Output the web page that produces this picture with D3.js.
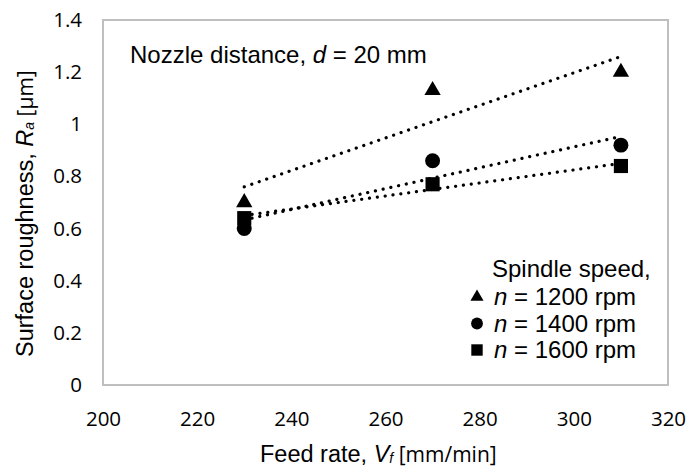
<!DOCTYPE html>
<html>
<head>
<meta charset="utf-8">
<script src="https://cdn.jsdelivr.net/npm/d3@7"></script>
<style>
  body { margin: 0; background: #fff; }
  svg { display: block; }
</style>
</head>
<body>
<svg id="chart" width="688" height="468"></svg>
<script>
// feed rates (mm/min)
const feedRates = [230, 270, 310];
// Ra per spindle speed
const ra1200 = [0.70, 1.13, 1.20];
const ra1400 = [0.60, 0.86, 0.92];
const ra1600 = [0.64, 0.77, 0.84];
const speedLabels = ["1200", "1400", "1600"];
const xTicks = [200, 220, 240, 260, 280, 300, 320];
const yTicks = [0, 0.2, 0.4, 0.6, 0.8, 1, 1.2, 1.4];

const series = [
    { name: speedLabels[0], values: ra1200, shape: d3.symbolTriangle },
    { name: speedLabels[1], values: ra1400, shape: d3.symbolCircle },
    { name: speedLabels[2], values: ra1600, shape: d3.symbolSquare }
];

const svg = d3.select( "#chart" );
const m = { left: 103, top: 20, right: 668, bottom: 385 };
const arial = "'Liberation Sans', Arial, sans-serif";

const x = d3.scaleLinear().domain( [ 200, 320 ] ).range( [ m.left, m.right ] );
const y = d3.scaleLinear().domain( [ 0, 1.4 ] ).range( [ m.bottom, m.top ] );

// plot frame
svg.append( "rect" )
    .attr( "x", m.left ).attr( "y", m.top )
    .attr( "width", m.right - m.left ).attr( "height", m.bottom - m.top )
    .attr( "fill", "none" ).attr( "stroke", "#bfbfbf" ).attr( "stroke-width", 2 );

// axes (labels only)
let xAxis = svg.append( "g" ).attr( "transform", "translate(0," + m.bottom + ")" )
    .call( d3.axisBottom( x ).tickValues( xTicks ).tickSize( 0 ).tickPadding( 26 ) );
let yAxis = svg.append( "g" ).attr( "transform", "translate(" + m.left + ",0)" )
    .call( d3.axisLeft( y ).tickValues( yTicks ).tickSize( 0 ).tickPadding( 21 ).tickFormat( d3.format( "" ) ) );
[ xAxis, yAxis ].forEach( function ( a ) {
    a.select( ".domain" ).remove();
    a.selectAll( "text" ).attr( "font-family", "'Open Sans', sans-serif" ).attr( "font-size", 20.5 ).attr( "fill", "#000" );
} );

// linear trend lines (least squares)
function fit( xs, ys ) {
    let mx = d3.mean( xs ), my = d3.mean( ys );
    let num = d3.sum( xs, function ( v, i ) { return ( v - mx ) * ( ys[ i ] - my ); } );
    let den = d3.sum( xs, function ( v ) { return ( v - mx ) * ( v - mx ); } );
    let b = num / den;
    return function ( v ) { return my + b * ( v - mx ); };
}

series.forEach( function ( s ) {
    let f = fit( feedRates, s.values );
    let x0 = d3.min( feedRates ), x1 = d3.max( feedRates );
    svg.append( "line" )
        .attr( "x1", x( x0 ) ).attr( "y1", y( f( x0 ) ) )
        .attr( "x2", x( x1 ) ).attr( "y2", y( f( x1 ) ) )
        .attr( "stroke", "#000" ).attr( "stroke-width", 3.2 )
        .attr( "stroke-linecap", "round" ).attr( "stroke-dasharray", "0.1 7.8" );
} );

// markers
series.forEach( function ( s ) {
    svg.append( "g" ).selectAll( "path" ).data( s.values ).enter().append( "path" )
        .attr( "transform", function ( d, i ) { return "translate(" + x( feedRates[ i ] ) + "," + y( d ) + ")"; } )
        .attr( "d", d3.symbol().type( s.shape ).size( s.shape === d3.symbolTriangle ? 115 : ( s.shape === d3.symbolCircle ? 175 : 200 ) ) )
        .attr( "fill", "#000" );
} );

// annotation
let note = svg.append( "text" ).attr( "x", 130 ).attr( "y", 63 )
    .attr( "font-family", arial ).attr( "font-size", 24 ).attr( "fill", "#000" );
note.append( "tspan" ).text( "Nozzle distance, " );
note.append( "tspan" ).attr( "font-style", "italic" ).text( "d" );
note.append( "tspan" ).text( " = 20 mm" );

// legend
let lg = svg.append( "g" ).attr( "font-family", arial ).attr( "font-size", 24 ).attr( "fill", "#000" );
lg.append( "text" ).attr( "x", 492 ).attr( "y", 277 ).text( "Spindle speed," );
series.forEach( function ( s, i ) {
    let by = 305 + i * 26.5;
    lg.append( "path" )
        .attr( "transform", "translate(477," + ( by - 8 ) + ")" )
        .attr( "d", d3.symbol().type( s.shape ).size( s.shape === d3.symbolTriangle ? 75 : ( s.shape === d3.symbolCircle ? 110 : 130 ) ) )
        .attr( "fill", "#000" );
    let t = lg.append( "text" ).attr( "x", 494 ).attr( "y", by );
    t.append( "tspan" ).attr( "font-style", "italic" ).text( "n" );
    t.append( "tspan" ).text( " = " + s.name + " rpm" );
} );

// x title
let xt = svg.append( "text" ).attr( "x", 260 ).attr( "y", 462 )
    .attr( "font-family", arial ).attr( "font-size", 23.5 ).attr( "fill", "#000" );
xt.append( "tspan" ).text( "Feed rate, " );
xt.append( "tspan" ).attr( "font-style", "italic" ).text( "V" );
xt.append( "tspan" ).attr( "font-style", "italic" ).attr( "font-size", 14 ).attr( "dy", 1 ).text( "f" );
xt.append( "tspan" ).attr( "dy", -1 ).attr( "font-family", "'Open Sans', sans-serif" ).attr( "font-size", 21 ).text( " [mm/min]" );

// y title
let yt = svg.append( "text" ).attr( "transform", "translate(33,357) rotate(-90)" )
    .attr( "font-family", arial ).attr( "font-size", 23.5 ).attr( "fill", "#000" );
yt.append( "tspan" ).text( "Surface roughness, " );
yt.append( "tspan" ).attr( "font-style", "italic" ).text( "R" );
yt.append( "tspan" ).attr( "font-style", "italic" ).attr( "font-size", 14 ).attr( "dy", 1 ).text( "a" );
yt.append( "tspan" ).attr( "dy", -1 ).attr( "font-family", "'Open Sans', sans-serif" ).attr( "font-size", 21 ).text( " [μm]" );
</script>
</body>
</html>
